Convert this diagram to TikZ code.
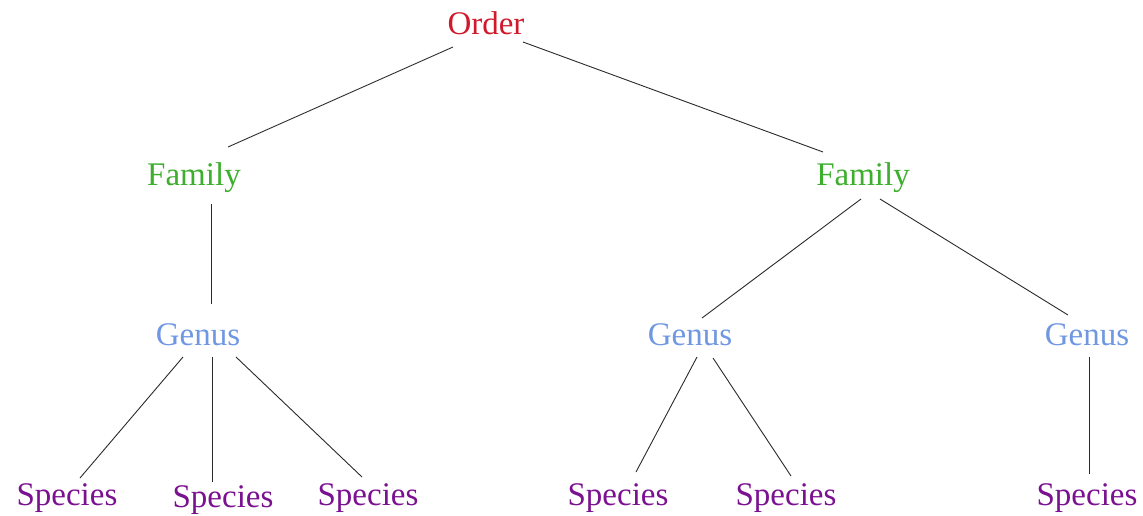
\documentclass[tikz,border=0pt]{standalone}
\usepackage{fontspec}
\setmainfont{Liberation Serif}
\definecolor{ordercol}{HTML}{D01A2C}
\definecolor{familycol}{HTML}{3DAE2E}
\definecolor{genuscol}{HTML}{6F97E2}
\definecolor{speciescol}{HTML}{7A1190}
\definecolor{edgecol}{HTML}{2A2A2A}
\tikzset{
  rank/.style={anchor=base, inner sep=0pt, font=\fontsize{33}{40}\selectfont},
  orderlbl/.style={rank, text=ordercol},
  familylbl/.style={rank, text=familycol},
  genuslbl/.style={rank, text=genuscol},
  specieslbl/.style={rank, text=speciescol},
  edge/.style={draw=edgecol, line width=0.9pt},
}
\begin{document}
\begin{tikzpicture}[x=1pt, y=-1pt]
\useasboundingbox (0,0) rectangle (1143,516);

% ranks of the tree, placed on their baselines
\node[orderlbl]   (order) at (486,35)  {Order};
\node[familylbl]  (fam1)  at (194,185) {Family};
\node[familylbl]  (fam2)  at (863,185) {Family};
\node[genuslbl]   (gen1)  at (198,345) {Genus};
\node[genuslbl]   (gen2)  at (690,345) {Genus};
\node[genuslbl]   (gen3)  at (1087,345) {Genus};
\node[specieslbl] (sp1)   at (67,505)  {Species};
\node[specieslbl] (sp2)   at (223,507) {Species};
\node[specieslbl] (sp3)   at (368,505) {Species};
\node[specieslbl] (sp4)   at (618,505) {Species};
\node[specieslbl] (sp5)   at (786,505) {Species};
\node[specieslbl] (sp6)   at (1087,505) {Species};

% branches
\draw[edge] ([shift={(-33,12)}]order.base) -- ([shift={(34,-38)}]fam1.base);
\draw[edge] ([shift={(37,7)}]order.base)   -- ([shift={(-40,-33)}]fam2.base);

\draw[edge] ([shift={(17,19)}]fam1.base) -- ([shift={(13,-41)}]gen1.base);
\draw[edge] ([shift={(-2,14)}]fam2.base) -- ([shift={(12,-27)}]gen2.base);
\draw[edge] ([shift={(17,14)}]fam2.base) -- ([shift={(-19,-30)}]gen3.base);

\draw[edge] ([shift={(-15,12)}]gen1.base) -- ([shift={(13,-27)}]sp1.base);
\draw[edge] ([shift={(14,12)}]gen1.base)  -- ([shift={(-11,-25)}]sp2.base);
\draw[edge] ([shift={(38,12)}]gen1.base)  -- ([shift={(-6,-28)}]sp3.base);

\draw[edge] ([shift={(7,12)}]gen2.base)  -- ([shift={(18,-33)}]sp4.base);
\draw[edge] ([shift={(23,13)}]gen2.base) -- ([shift={(5,-29)}]sp5.base);

\draw[edge] ([shift={(2,12)}]gen3.base) -- ([shift={(2,-31)}]sp6.base);
\end{tikzpicture}
\end{document}
